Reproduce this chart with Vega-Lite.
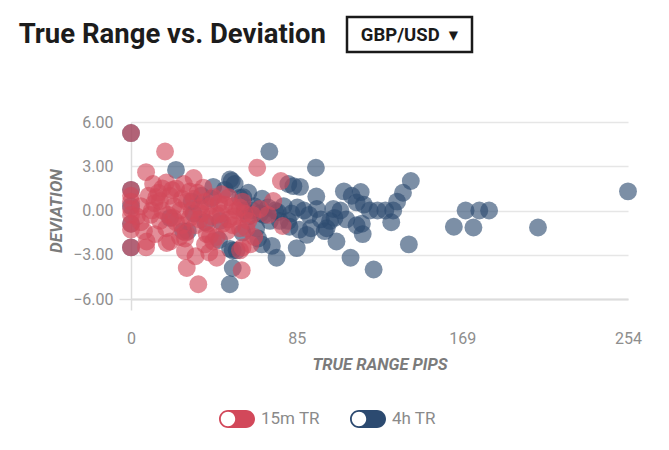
{
  "$schema": "https://vega.github.io/schema/vega-lite/v6.json",
  "background": "white",
  "padding": {"left": 18, "top": 15, "right": 10, "bottom": 10},
  "title": {"text": "True Range vs. Deviation", "anchor": "start", "frame": "bounds", "dx": -29, "offset": -33, "fontSize": 27.5, "font": "Roboto", "fontWeight": "bold", "color": "#1c1c1c"},
  "config": {"font": "Roboto", "view": {"stroke": null}},
  "spacing": 60,
  "vconcat": [
    {
      "spacing": 20,
      "hconcat": [
        {"width": 194, "height": 35, "data": {"values": [{"t": ""}]}, "mark": {"type": "text"}, "encoding": {"text": {"field": "t"}}, "view": {"stroke": null}},
        {"width": 125, "height": 35, "data": {"values": [{"label": "GBP/USD\u00a0\u00a0▾"}]}, "mark": {"type": "text", "font": "Roboto, DejaVu Sans", "fontSize": 18.5, "fontWeight": "bold", "color": "#1a1a1a"}, "encoding": {"text": {"field": "label"}}, "view": {"stroke": "#1a1a1a", "strokeWidth": 2.5}}
      ]
    },
    {
      "width": 497,
      "height": 177,
      "data": {"values": [
        {"series":"4h TR","tr":0,"dev":5.25},{"series":"4h TR","tr":0,"dev":1.4},{"series":"4h TR","tr":0,"dev":0.3},{"series":"4h TR","tr":0,"dev":-0.9},{"series":"4h TR","tr":0,"dev":-2.5},
        {"series":"4h TR","tr":23,"dev":2.75},{"series":"4h TR","tr":26.6,"dev":-1.4},{"series":"4h TR","tr":29,"dev":-1.4},{"series":"4h TR","tr":31,"dev":0.6},{"series":"4h TR","tr":32,"dev":-0.2},
        {"series":"4h TR","tr":20,"dev":-0.5},{"series":"4h TR","tr":36,"dev":1.0},{"series":"4h TR","tr":38,"dev":-0.8},{"series":"4h TR","tr":41,"dev":0.8},{"series":"4h TR","tr":42,"dev":1.6},
        {"series":"4h TR","tr":45.5,"dev":-0.7},{"series":"4h TR","tr":45,"dev":-2.0},{"series":"4h TR","tr":48,"dev":1.4},{"series":"4h TR","tr":50.6,"dev":2.1},{"series":"4h TR","tr":51.5,"dev":2.0},
        {"series":"4h TR","tr":53,"dev":1.8},{"series":"4h TR","tr":55.7,"dev":0.86},{"series":"4h TR","tr":57.4,"dev":0.9},{"series":"4h TR","tr":50.6,"dev":-2.6},{"series":"4h TR","tr":52,"dev":-2.7},
        {"series":"4h TR","tr":54,"dev":-2.7},{"series":"4h TR","tr":52,"dev":-3.9},{"series":"4h TR","tr":50.5,"dev":-5.0},{"series":"4h TR","tr":57,"dev":-1.5},{"series":"4h TR","tr":58,"dev":0.0},
        {"series":"4h TR","tr":60,"dev":-0.4},{"series":"4h TR","tr":60,"dev":1.2},{"series":"4h TR","tr":62,"dev":0.0},{"series":"4h TR","tr":63,"dev":0.3},{"series":"4h TR","tr":64,"dev":-1.2},
        {"series":"4h TR","tr":65,"dev":-1.9},{"series":"4h TR","tr":66,"dev":-0.2},{"series":"4h TR","tr":66.8,"dev":-2.3},{"series":"4h TR","tr":67,"dev":0.8},{"series":"4h TR","tr":68,"dev":-0.3},
        {"series":"4h TR","tr":70,"dev":0.2},{"series":"4h TR","tr":70.7,"dev":4.0},{"series":"4h TR","tr":71,"dev":-0.7},{"series":"4h TR","tr":72,"dev":-2.4},{"series":"4h TR","tr":73.6,"dev":0.0},
        {"series":"4h TR","tr":74.4,"dev":-3.2},{"series":"4h TR","tr":75,"dev":-0.1},{"series":"4h TR","tr":76,"dev":-0.7},{"series":"4h TR","tr":78,"dev":0.3},{"series":"4h TR","tr":80.4,"dev":1.8},
        {"series":"4h TR","tr":80.4,"dev":-0.7},{"series":"4h TR","tr":81,"dev":-1.1},{"series":"4h TR","tr":82,"dev":-0.2},{"series":"4h TR","tr":83,"dev":1.65},{"series":"4h TR","tr":84.7,"dev":-2.55},
        {"series":"4h TR","tr":85,"dev":0.2},{"series":"4h TR","tr":86,"dev":-1.3},{"series":"4h TR","tr":86.4,"dev":1.6},{"series":"4h TR","tr":88.4,"dev":0.0},{"series":"4h TR","tr":89.8,"dev":-1.65},
        {"series":"4h TR","tr":91,"dev":-0.3},{"series":"4h TR","tr":92,"dev":-1.2},{"series":"4h TR","tr":94.5,"dev":2.9},{"series":"4h TR","tr":94.7,"dev":0.95},{"series":"4h TR","tr":95,"dev":0.1},
        {"series":"4h TR","tr":97,"dev":-0.6},{"series":"4h TR","tr":99,"dev":-1.4},{"series":"4h TR","tr":100,"dev":-1.2},{"series":"4h TR","tr":101.7,"dev":-0.7},{"series":"4h TR","tr":103.4,"dev":0.1},
        {"series":"4h TR","tr":104,"dev":-0.5},{"series":"4h TR","tr":105,"dev":-2.1},{"series":"4h TR","tr":107,"dev":0.0},{"series":"4h TR","tr":108.8,"dev":1.3},{"series":"4h TR","tr":110,"dev":-0.6},
        {"series":"4h TR","tr":112.2,"dev":-3.2},{"series":"4h TR","tr":112.8,"dev":1.0},{"series":"4h TR","tr":115.3,"dev":0.55},{"series":"4h TR","tr":115.3,"dev":-1.0},{"series":"4h TR","tr":117.4,"dev":1.25},
        {"series":"4h TR","tr":118,"dev":-0.9},{"series":"4h TR","tr":118.4,"dev":-1.6},{"series":"4h TR","tr":119,"dev":0.4},{"series":"4h TR","tr":122,"dev":0.0},{"series":"4h TR","tr":124,"dev":-4.0},
        {"series":"4h TR","tr":126,"dev":0.0},{"series":"4h TR","tr":130,"dev":0.0},{"series":"4h TR","tr":133,"dev":-0.8},{"series":"4h TR","tr":134,"dev":0.0},{"series":"4h TR","tr":136,"dev":0.6},
        {"series":"4h TR","tr":139,"dev":1.2},{"series":"4h TR","tr":142,"dev":-2.3},{"series":"4h TR","tr":143,"dev":2.0},{"series":"4h TR","tr":165,"dev":-1.1},{"series":"4h TR","tr":171,"dev":0.0},
        {"series":"4h TR","tr":175,"dev":-1.15},{"series":"4h TR","tr":178,"dev":0.0},{"series":"4h TR","tr":183,"dev":0.0},{"series":"4h TR","tr":208,"dev":-1.15},{"series":"4h TR","tr":254,"dev":1.3},
        {"series":"15m TR","tr":0,"dev":5.25},{"series":"15m TR","tr":0,"dev":1.4},{"series":"15m TR","tr":0,"dev":1.0},{"series":"15m TR","tr":0,"dev":0.6},{"series":"15m TR","tr":0,"dev":0.1},
        {"series":"15m TR","tr":0,"dev":-0.3},{"series":"15m TR","tr":0,"dev":-0.9},{"series":"15m TR","tr":0,"dev":-1.3},{"series":"15m TR","tr":0,"dev":-2.5},{"series":"15m TR","tr":3,"dev":-0.4},
        {"series":"15m TR","tr":5,"dev":0.3},{"series":"15m TR","tr":5,"dev":-0.8},{"series":"15m TR","tr":6.6,"dev":-1.4},{"series":"15m TR","tr":7.7,"dev":2.6},{"series":"15m TR","tr":7.7,"dev":-2.5},
        {"series":"15m TR","tr":8,"dev":-2.1},{"series":"15m TR","tr":9,"dev":1.0},{"series":"15m TR","tr":10.6,"dev":0.0},{"series":"15m TR","tr":11.3,"dev":1.8},{"series":"15m TR","tr":12,"dev":0.5},
        {"series":"15m TR","tr":12.3,"dev":-1.6},{"series":"15m TR","tr":14,"dev":1.2},{"series":"15m TR","tr":14.8,"dev":0.64},{"series":"15m TR","tr":14.8,"dev":-0.7},{"series":"15m TR","tr":17.4,"dev":4.0},
        {"series":"15m TR","tr":18,"dev":1.9},{"series":"15m TR","tr":18,"dev":-1.2},{"series":"15m TR","tr":18.2,"dev":-2.2},{"series":"15m TR","tr":20,"dev":1.0},{"series":"15m TR","tr":20,"dev":-2.1},
        {"series":"15m TR","tr":21.6,"dev":-0.5},{"series":"15m TR","tr":22,"dev":0.3},{"series":"15m TR","tr":23,"dev":1.5},{"series":"15m TR","tr":25,"dev":0.0},{"series":"15m TR","tr":25,"dev":-1.8},
        {"series":"15m TR","tr":26,"dev":-1.0},{"series":"15m TR","tr":27,"dev":1.8},{"series":"15m TR","tr":27.6,"dev":-2.75},{"series":"15m TR","tr":28.5,"dev":0.6},{"series":"15m TR","tr":28.5,"dev":-3.9},
        {"series":"15m TR","tr":30,"dev":-0.5},{"series":"15m TR","tr":32,"dev":2.2},{"series":"15m TR","tr":32,"dev":0.8},{"series":"15m TR","tr":33,"dev":-1.0},{"series":"15m TR","tr":33,"dev":-3.1},
        {"series":"15m TR","tr":34.4,"dev":-5.0},{"series":"15m TR","tr":35.3,"dev":0.2},{"series":"15m TR","tr":36,"dev":-0.2},{"series":"15m TR","tr":37,"dev":1.55},{"series":"15m TR","tr":37.8,"dev":-2.3},
        {"series":"15m TR","tr":38,"dev":0.6},{"series":"15m TR","tr":38.7,"dev":-1.6},{"series":"15m TR","tr":40,"dev":0.3},{"series":"15m TR","tr":40,"dev":-2.85},{"series":"15m TR","tr":40.4,"dev":-1.7},
        {"series":"15m TR","tr":42,"dev":0.9},{"series":"15m TR","tr":42,"dev":-2.1},{"series":"15m TR","tr":43.8,"dev":-1.8},{"series":"15m TR","tr":43.8,"dev":-3.2},{"series":"15m TR","tr":44,"dev":-0.3},
        {"series":"15m TR","tr":45,"dev":0.5},{"series":"15m TR","tr":46.3,"dev":1.1},{"series":"15m TR","tr":47,"dev":-0.9},{"series":"15m TR","tr":48,"dev":0.4},{"series":"15m TR","tr":49,"dev":-1.4},
        {"series":"15m TR","tr":50,"dev":-0.6},{"series":"15m TR","tr":52,"dev":0.3},{"series":"15m TR","tr":52,"dev":-1.0},{"series":"15m TR","tr":54,"dev":0.0},{"series":"15m TR","tr":55.7,"dev":0.2},
        {"series":"15m TR","tr":55.7,"dev":-1.2},{"series":"15m TR","tr":55.7,"dev":-2.7},{"series":"15m TR","tr":56.6,"dev":-4.05},{"series":"15m TR","tr":57,"dev":-2.5},{"series":"15m TR","tr":58,"dev":-0.2},
        {"series":"15m TR","tr":59,"dev":-1.2},{"series":"15m TR","tr":60,"dev":-0.7},{"series":"15m TR","tr":61,"dev":-2.3},{"series":"15m TR","tr":62,"dev":-0.3},{"series":"15m TR","tr":63,"dev":-1.8},
        {"series":"15m TR","tr":64.5,"dev":2.9},{"series":"15m TR","tr":66,"dev":0.1},{"series":"15m TR","tr":70,"dev":-0.3},{"series":"15m TR","tr":72.7,"dev":0.64},{"series":"15m TR","tr":76.6,"dev":2.0},
        {"series":"15m TR","tr":77.5,"dev":-1.05},{"series":"15m TR","tr":16,"dev":1.5},{"series":"15m TR","tr":30,"dev":1.3},{"series":"15m TR","tr":10,"dev":-0.3},{"series":"15m TR","tr":16,"dev":0.0},
        {"series":"15m TR","tr":19,"dev":-0.3},{"series":"15m TR","tr":23,"dev":-0.8},{"series":"15m TR","tr":28,"dev":-1.5},{"series":"15m TR","tr":34,"dev":1.2},{"series":"15m TR","tr":39,"dev":-0.9},
        {"series":"15m TR","tr":27.6,"dev":-1.9},{"series":"15m TR","tr":13,"dev":0.9},{"series":"15m TR","tr":21,"dev":1.4},{"series":"15m TR","tr":26,"dev":0.8},{"series":"15m TR","tr":31,"dev":0.0},
        {"series":"15m TR","tr":35,"dev":-0.6},{"series":"15m TR","tr":41,"dev":-0.4},{"series":"15m TR","tr":46,"dev":-0.2},{"series":"15m TR","tr":50,"dev":0.9},{"series":"15m TR","tr":53,"dev":-0.4},
        {"series":"15m TR","tr":57,"dev":0.6}
      ]},
      "mark": {"type": "circle", "size": 320, "opacity": 0.62},
      "encoding": {
        "x": {
          "field": "tr", "type": "quantitative",
          "scale": {"domain": [0, 254], "nice": false, "zero": false},
          "axis": {
            "title": "TRUE RANGE PIPS", "values": [0, 84.67, 169.33, 254], "format": ".0f",
            "grid": false, "domainColor": "#dcdcdc", "domainWidth": 2,
            "tickSize": 11, "tickWidth": 1.5,
            "tickColor": {"condition": {"test": "datum.value === 0", "value": "#dcdcdc"}, "value": "transparent"},
            "labelPadding": 20, "labelFontSize": 16, "labelColor": "#8e8e8e", "labelFlush": false,
            "titleFontSize": 16.5, "titleFontWeight": "bold", "titleFontStyle": "italic", "titleColor": "#7b7b7b", "titlePadding": 10
          }
        },
        "y": {
          "field": "dev", "type": "quantitative",
          "scale": {"domain": [-6, 6], "nice": false},
          "axis": {
            "title": "DEVIATION", "values": [-6, -3, 0, 3, 6], "format": ".2f",
            "grid": true, "gridColor": "#e6e6e6", "gridWidth": 1.5,
            "domainColor": "#dcdcdc", "domainWidth": 1.5,
            "tickSize": 12, "tickWidth": 1.5,
            "tickColor": {"condition": {"test": "datum.value === -6", "value": "#dcdcdc"}, "value": "transparent"},
            "labelPadding": 6, "labelFontSize": 16, "labelColor": "#8e8e8e",
            "titleFontSize": 17, "titleFontWeight": "bold", "titleFontStyle": "italic", "titleColor": "#7b7b7b", "titlePadding": 7
          }
        },
        "color": {
          "field": "series", "type": "nominal",
          "scale": {"domain": ["15m TR", "4h TR"], "range": ["#d2485a", "#2c4a70"]},
          "legend": {
            "title": null, "orient": "none", "legendX": 88, "legendY": 384, "direction": "horizontal",
            "symbolType": "M -1 0 A 0.5 0.5 0 0 1 -0.5 -0.5 L 0.5 -0.5 A 0.5 0.5 0 0 1 0.5 0.5 L -0.5 0.5 A 0.5 0.5 0 0 1 -1 0 Z M -0.5 -0.4 A 0.4 0.4 0 0 0 -0.5 0.4 A 0.4 0.4 0 0 0 -0.5 -0.4 Z",
            "symbolSize": 1296, "symbolOpacity": 1, "symbolStrokeWidth": 0,
            "labelFontSize": 17, "labelColor": "#8a8a8a", "labelOffset": 6, "columnPadding": 30
          }
        }
      }
    }
  ]
}
